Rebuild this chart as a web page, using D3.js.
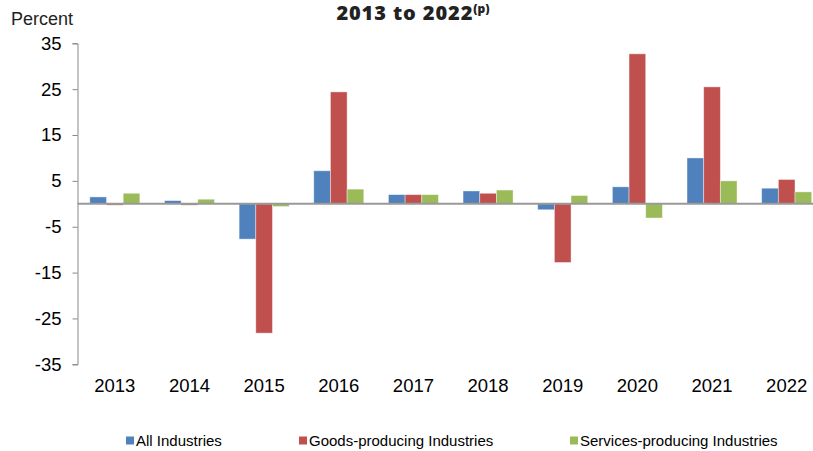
<!DOCTYPE html>
<html><head><meta charset="utf-8">
<script src="https://cdn.jsdelivr.net/npm/d3@7"></script>
<style>body{margin:0;background:#fff}svg{display:block}</style>
</head><body>
<script>
const years = ["2013","2014","2015","2016","2017","2018","2019","2020","2021","2022"];
const seriesNames = ["All Industries","Goods-producing Industries","Services-producing Industries"];
const allIndustries = [1.5, 0.7, -7.7, 7.2, 2.0, 2.8, -1.3, 3.7, 10.0, 3.4];
const goodsProducing = [-0.3, -0.3, -28.2, 24.4, 2.0, 2.3, -12.8, 32.7, 25.5, 5.3];
const servicesProducing = [2.3, 1.0, -0.6, 3.2, 2.0, 3.0, 1.8, -3.1, 5.0, 2.6];
const yTicks = [35, 25, 15, 5, -5, -15, -25, -35];
const colors = ["#4F81BD", "#C0504D", "#9BBB59"];

(function () {
const W = 813, H = 451;
const svg = d3.select("body").append("svg").attr("width", W).attr("height", H);
const pLeft = 77.5, pRight = 824, pTop = 43.3, pBottom = 364.3;
const font = "Liberation Sans, Arial, sans-serif";

const y = d3.scaleLinear().domain([-35, 35]).range([pBottom, pTop]);
const x0 = d3.scaleBand().domain(years).range([pLeft, pRight]).paddingInner(0.33).paddingOuter(0.165);
const x1 = d3.scaleBand().domain(seriesNames).range([0, x0.bandwidth()]);

const data = [allIndustries, goodsProducing, servicesProducing];

// title
const title = svg.append("text").attr("x", 413).attr("y", 20).attr("text-anchor", "middle")
  .attr("font-family", "'Open Sans', Lato, sans-serif").attr("font-weight", "800").attr("font-size", 20)
  .attr("letter-spacing", 0.9).attr("fill", "#222");
title.append("tspan").text("2013 to 2022");
title.append("tspan").attr("dy", -7).attr("font-size", 12).attr("letter-spacing", 0).text("(p)");

svg.append("text").attr("x", 11).attr("y", 25).attr("font-family", font)
  .attr("font-size", 18).attr("fill", "#222").text("Percent");

// y axis
const yAxis = svg.append("g").attr("transform", `translate(${pLeft},0)`)
  .call(d3.axisLeft(y).tickValues(yTicks).tickSize(5).tickPadding(11).tickFormat(d => String(d)));
yAxis.select(".domain").attr("stroke", "#888");
yAxis.selectAll(".tick line").attr("stroke", "#888");
yAxis.selectAll("text").attr("font-family", font).attr("font-size", 18.5).attr("fill", "#000");

// bars
const groups = svg.append("g").selectAll("g").data(years).join("g")
  .attr("transform", d => `translate(${x0(d)},0)`);
groups.selectAll("rect").data((d, i) => seriesNames.map((s, k) => ({s, k, v: data[k][i]}))).join("rect")
  .attr("x", d => x1(d.s))
  .attr("width", x1.bandwidth())
  .attr("y", d => y(Math.max(0, d.v)))
  .attr("height", d => Math.abs(y(d.v) - y(0)))
  .attr("fill", d => colors[d.k])
  .attr("stroke", "#fff").attr("stroke-opacity", 0.5).attr("stroke-width", 0.8);

// zero line
svg.append("line").attr("x1", pLeft).attr("x2", W).attr("y1", y(0)).attr("y2", y(0))
  .attr("stroke", "#999").attr("stroke-width", 2);

// x labels
svg.append("g").selectAll("text").data(years).join("text")
  .attr("x", d => x0(d) + x0.bandwidth() / 2).attr("y", 392.3)
  .attr("text-anchor", "middle").attr("font-family", font)
  .attr("font-size", 18.5).attr("fill", "#000").text(d => d);

// legend
const legendX = [126, 299, 570];
const lg = svg.append("g").selectAll("g").data(seriesNames).join("g")
  .attr("transform", (d, i) => `translate(${legendX[i]},0)`);
lg.append("rect").attr("x", 0).attr("y", 436.5).attr("width", 8).attr("height", 8).attr("fill", (d, i) => colors[i]);
lg.append("text").attr("x", 10).attr("y", 446).attr("font-family", font)
  .attr("font-size", 15).attr("fill", "#000").text(d => d);
})();
</script>
</body></html>
